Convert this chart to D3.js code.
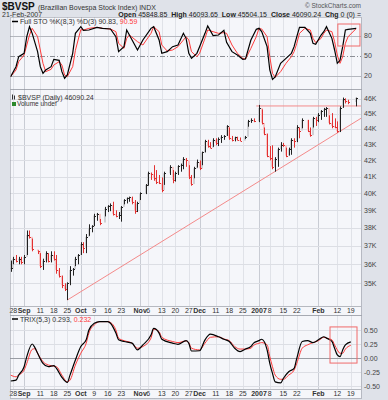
<!DOCTYPE html>
<html>
<head>
<meta charset="utf-8">
<script src="https://cdn.jsdelivr.net/npm/d3@7"></script>
<style>
body { margin: 0; background: #dfe2e9; }
svg text { font-family: "Liberation Sans", Arial, sans-serif; }
</style>
</head>
<body>
<svg width="388" height="400"></svg>
<script>
// ---- data (index points) ----
// one slot per weekday from 25-Aug-2006 to 21-Feb-2007, null = no trading
var highs = [36200,36400,36500,36400,36400,36500,37850,37850,37400,null,
  36750,36600,36300,36700,36600,36700,36700,36500,35800,35400,
  35000,35050,35900,35800,36400,36550,37200,37200,37650,38200,
  38150,38800,38850,38500,null,39200,39300,39400,39500,39000,
  38900,39250,39650,39750,39800,39800,39600,39500,40050,null,
  40550,41300,41250,41700,41400,41100,40950,41300,null,41700,
  41400,41300,41700,41800,42200,42150,41700,41100,41600,42050,
  42000,42550,43300,43300,43150,43400,43400,43450,43600,43600,
  44250,44100,43550,43500,43500,43450,null,43550,44600,44700,
  44700,null,45600,45300,44100,43700,42900,42950,42200,42800,
  43150,43100,42800,42800,43400,43400,44250,44100,44700,null,
  44600,44100,44800,44800,45050,45250,45400,45450,44900,45050,
  44700,44500,45500,46100,46050,45950,null,null,46093.65];
var lows = [35600,36000,36100,36000,36000,36000,36500,37400,36700,null,
  36550,35800,35700,36100,36100,36100,36200,35500,35300,34750,
  34600,34140,34900,35400,35900,36000,36500,36600,36600,37550,
  37750,38100,38400,38150,null,38650,38900,38950,38700,38600,
  38500,38350,39350,39400,39500,39350,38800,38900,39600,null,
  39950,40450,40800,40750,40550,40550,40060,40500,null,41100,
  40600,40700,41100,41300,41450,41600,40850,40450,40900,41550,
  41400,41700,42500,42800,42750,42850,42950,42900,43100,43300,
  43550,43300,43200,43200,43250,43200,null,43350,44150,44400,
  44450,null,44450,44300,43600,42200,42000,41450,41300,41600,
  42550,42850,42200,42300,42350,42800,43150,43400,44050,null,
  43800,43500,44100,44200,44450,44600,44800,44800,44300,44050,
  44050,43750,43800,45400,45700,45650,null,null,45504.15];
var closes = [35800,36300,36200,36300,36100,36400,37600,37500,36800,null,
  36700,35900,36200,36600,36200,36500,36300,35700,35400,34900,
  34700,35000,35700,35750,36300,36500,37100,36900,37500,38000,
  38100,38700,38800,38300,null,39100,39250,39300,38800,38700,
  38750,39200,39600,39700,39750,39500,38950,39400,40000,null,
  40500,41200,41150,40900,40700,40600,40200,41200,null,41600,
  40800,41200,41650,41700,42100,42000,41000,40550,41500,41900,
  41500,42500,43200,42900,42800,43300,43100,43350,43500,43550,
  44200,43400,43300,43450,43300,43250,null,43500,44500,44600,
  44500,null,45400,44400,43700,42300,42150,41600,42100,42700,
  43000,42950,42300,42700,43300,43200,44100,43900,44600,null,
  43900,43600,44700,44600,44950,45200,45300,45400,44400,44200,
  44100,43850,45400,46000,45850,45800,null,null,46090.24];

// Full STO %K(8,3) / %D(3), sampled by weekday slot
var stochDays = [0,2,3,5,6,7,8,10,11,12,13,15,16,18,19,20,21,23,24,26,27,29,32,34,37,39,40,42,43,44,
  47,49,52,53,55,56,58,60,62,64,65,66,67,69,70,72,73,75,77,79,80,82,84,86,87,89,91,92,93,95,
  96,97,98,100,102,104,105,106,107,109,111,112,113,115,116,117,119,120,121,122,123,124,125,128];
var stochK = [18.5,33.5,48.5,53.5,78.5,93.5,83.5,56,33.5,23.5,28.5,33.5,44.5,43,26,16,21,53.5,83.5,93.5,88,88.5,92.5,91,90,78.5,56,63.5,88.5,81,
  58.5,73.5,91,93.5,73.5,53.5,56,63.5,66,83.5,76,53.5,46,53.5,63.5,83.5,94.5,80,81,88,70,56,51,44.5,45,73.5,89.5,91,86,63.5,
  28.5,14.5,18,38.5,46,53.5,63.5,78.5,92.5,92.5,83.5,68.5,67,81,86,93.5,76,58.5,38.5,43,63.5,88.5,89.5,90.83];
var stochD = [18.5,28.5,41,51,66,81,91,78.5,58.5,38.5,26,29.5,36,41,36,21,18.5,33.5,58,89,88.5,91,92.5,91,90,86,68.5,61,76,81,
  71,66,83.5,93.5,86,66,57,58.5,63.5,73.5,78.5,73.5,56,48.5,53.5,76,88.5,86,83.5,84.5,83.5,66,53.5,46,45,61,78.5,91,90,78.5,
  48.5,23.5,17.5,26,38.5,48.5,56,68.5,83.5,91,88.5,76,69.5,76,83.5,88.5,86,71,51,38.5,48.5,68.5,78.5,90.59];

// TRIX(5,3) and its signal
var trixDays = [0,2,3,5,6,8,9,10,12,14,16,17,19,21,22,24,26,28,29,31,33,36,37,39,40,42,45,47,49,52,
  53,55,56,60,62,65,66,67,70,72,74,77,79,81,83,85,87,89,90,92,93,95,96,97,98,100,101,103,105,106,
  108,110,112,114,116,117,119,120,121,122,123,124,126];
var trixLine = [-0.405,-0.39,-0.30,-0.15,0.03,0.255,0.19,0.09,-0.09,-0.15,-0.13,-0.18,-0.34,-0.43,-0.30,-0.03,0.21,0.33,0.505,0.625,0.655,0.655,0.625,0.45,0.33,0.30,0.27,0.15,0.24,0.415,
  0.535,0.45,0.34,0.27,0.25,0.315,0.27,0.13,0.135,0.33,0.43,0.385,0.34,0.30,0.18,0.12,0.165,0.21,0.27,0.315,0.34,0.15,-0.09,-0.27,-0.42,-0.44,-0.36,-0.24,-0.18,0.0,
  0.30,0.315,0.28,0.33,0.385,0.36,0.30,0.18,0.06,0.03,0.15,0.24,0.293];
var trixSignal = [-0.30,-0.33,-0.30,-0.21,-0.09,0.16,0.17,0.09,-0.06,-0.12,-0.14,-0.15,-0.30,-0.42,-0.39,-0.12,0.09,0.27,0.45,0.595,0.655,0.655,0.64,0.505,0.36,0.315,0.27,0.18,0.21,0.36,
  0.52,0.475,0.375,0.30,0.28,0.31,0.28,0.18,0.15,0.27,0.375,0.385,0.345,0.315,0.21,0.165,0.165,0.18,0.23,0.27,0.28,0.24,0.03,-0.15,-0.30,-0.375,-0.375,-0.30,-0.21,-0.09,
  0.18,0.24,0.28,0.315,0.375,0.36,0.33,0.24,0.15,0.09,0.09,0.165,0.232];

// x axis labels
var tickDates = ['2006-08-28','2006-09-01','2006-09-11','2006-09-18','2006-09-25','2006-10-02','2006-10-09','2006-10-16','2006-10-23',
  '2006-11-01','2006-11-06','2006-11-13','2006-11-20','2006-11-27','2006-12-01','2006-12-11','2006-12-18','2006-12-25',
  '2007-01-02','2007-01-08','2007-01-15','2007-01-22','2007-02-01','2007-02-12','2007-02-19'];
var tickLabels = ['28','Sep','11','18','25','Oct','9','16','23','Nov','6','13','20','27','Dec','11','18','25','2007','8','15','22','Feb','12','19'];
var majorLabels = ['Sep','Oct','Nov','Dec','2007','Feb'];
var priceTicks = [35000,36000,37000,38000,39000,40000,41000,42000,43000,44000,45000,46000];
var stochTicks = [80,50,20];
var trixTicks = [0.5,0.25,0,-0.25,-0.5];
var trixTickLabels = ['0.50','0.25','0.00','-0.25','-0.50'];

// drawn annotations (day slot, value)
var supportLine = [[21, 34140], [130, 44730]];
var resistLine = [[91, 45530], [130, 45530]];
var stochBox = {from: 121.2, to: 129.4, top: 97.5, bottom: 64.5};
var trixBox = {from: 118.3, to: 128.3, top: 0.56, bottom: -0.085};

// ---- layout ----
var svg = d3.select('svg');
var L = 10, R = 361;
var fmt = d3.timeFormat('%Y-%m-%d');
var days = d3.timeDays(new Date(2006, 7, 25), new Date(2007, 1, 22))
  .filter(function(d){ return d.getDay() > 0 && d.getDay() < 6; }).map(fmt);

var x = d3.scaleLinear().domain([-0.22, 129.78]).range([L, R]);
var yPrice = d3.scaleLog().domain([33840, 46690]).range([306, 89]);
var yStoch = d3.scaleLinear().domain([0, 108]).range([89, 17]);
var yTrix = d3.scaleLinear().domain([-0.548, 0.773]).range([389, 315]);

var defs = svg.append('defs');
defs.append('clipPath').attr('id','clipMain').append('rect').attr('x',L).attr('y',89).attr('width',R-L).attr('height',217);
defs.append('clipPath').attr('id','clipStoch').append('rect').attr('x',L).attr('y',17).attr('width',R-L).attr('height',72);
defs.append('clipPath').attr('id','clipTrix').append('rect').attr('x',L).attr('y',315).attr('width',R-L).attr('height',74);

// panel backgrounds
[[17,89],[89,315],[315,398]].forEach(function(p){
  svg.append('rect').attr('x',L).attr('y',p[0]).attr('width',R-L).attr('height',p[1]-p[0]).attr('fill','#f5f6fa');
});

var tickX = tickDates.map(function(d){ return x(days.indexOf(d)); });

// vertical grid
[[17,89],[89,306],[315,389]].forEach(function(p){
  svg.append('g').selectAll('line').data(tickLabels).enter().append('line')
    .attr('x1', function(d,i){ return Math.round(tickX[i])+0.5; })
    .attr('x2', function(d,i){ return Math.round(tickX[i])+0.5; })
    .attr('y1', p[0]).attr('y2', p[1])
    .attr('stroke', function(d){ return majorLabels.indexOf(d) >= 0 ? '#c9ccd4' : '#e0e2e8'; });
});

// horizontal grid
svg.append('g').selectAll('line').data(priceTicks).enter().append('line')
  .attr('x1',L).attr('x2',R)
  .attr('y1', function(d){ return Math.round(yPrice(d))+0.5; })
  .attr('y2', function(d){ return Math.round(yPrice(d))+0.5; })
  .attr('stroke','#dcdee4');
svg.append('g').selectAll('line').data(stochTicks).enter().append('line')
  .attr('x1',L).attr('x2',R)
  .attr('y1', function(d){ return Math.round(yStoch(d))+0.5; })
  .attr('y2', function(d){ return Math.round(yStoch(d))+0.5; })
  .attr('stroke', function(d){ return d == 50 ? '#8c8f96' : '#b4b7be'; })
  .attr('stroke-dasharray', function(d){ return d == 50 ? '5,2,1,2' : null; });
svg.append('g').selectAll('line').data(trixTicks).enter().append('line')
  .attr('x1',L).attr('x2',R)
  .attr('y1', function(d){ return Math.round(yTrix(d))+0.5; })
  .attr('y2', function(d){ return Math.round(yTrix(d))+0.5; })
  .attr('stroke', function(d){ return d == 0 ? '#9a9da4' : '#dcdee4'; });

// x axis strips
[306, 389].forEach(function(yy){
  svg.append('line').attr('x1',L).attr('x2',R).attr('y1',yy+0.5).attr('y2',yy+0.5).attr('stroke','#b6b9c0');
});
[312.5, 396].forEach(function(yy){
  svg.append('g').selectAll('text').data(tickLabels).enter().append('text')
    .attr('x', function(d,i){ return tickX[i]; }).attr('y', yy)
    .attr('text-anchor','middle')
    .style('font-size','7px')
    .style('font-weight', function(d){ return majorLabels.indexOf(d) >= 0 ? 'bold' : 'normal'; })
    .attr('fill','#333')
    .text(function(d){ return d; });
});

// ---- stochastics ----
var gS = svg.append('g').attr('clip-path','url(#clipStoch)');
var lineS = function(vals){
  return d3.line().x(function(d,i){ return x(stochDays[i]); }).y(function(d){ return yStoch(d); })(vals);
};
gS.append('path').attr('d', lineS(stochD)).attr('fill','none').attr('stroke','#ff3b3b').attr('stroke-width',1);
gS.append('path').attr('d', lineS(stochK)).attr('fill','none').attr('stroke','#000').attr('stroke-width',1.2);
svg.append('rect').attr('x', x(stochBox.from)).attr('y', yStoch(stochBox.top))
  .attr('width', x(stochBox.to)-x(stochBox.from)).attr('height', yStoch(stochBox.bottom)-yStoch(stochBox.top))
  .attr('fill','none').attr('stroke','#f06a6a').attr('stroke-width',1);

// ---- price bars ----
var bars = [];
days.forEach(function(d,i){
  if (closes[i] != null) bars.push({i:i, h:highs[i], l:lows[i], c:closes[i]});
});
bars.forEach(function(b,k){ b.prev = k > 0 ? bars[k-1].c : b.c; b.up = b.c >= b.prev; });

var gM = svg.append('g').attr('clip-path','url(#clipMain)');
var lineP = d3.line().x(function(d){ return x(d[0]); }).y(function(d){ return yPrice(d[1]); });
gM.append('path').attr('d', lineP(supportLine)).attr('fill','none').attr('stroke','#f48a8a').attr('stroke-width',1);
gM.append('path').attr('d', lineP(resistLine)).attr('fill','none').attr('stroke','#f48a8a').attr('stroke-width',1);

gM.selectAll('.body').data(bars).enter().append('rect')
  .attr('x', function(b){ return Math.round(x(b.i))-1; }).attr('width', 2)
  .attr('y', function(b){ return yPrice(Math.max(b.c, b.prev)); })
  .attr('height', function(b){ return Math.max(1, Math.abs(yPrice(b.c)-yPrice(b.prev))); })
  .attr('fill', function(b){ return b.up ? '#d0d0d4' : '#f7c6c6'; });
gM.selectAll('.hl').data(bars).enter().append('line')
  .attr('x1', function(b){ return Math.round(x(b.i))+0.5; })
  .attr('x2', function(b){ return Math.round(x(b.i))+0.5; })
  .attr('y1', function(b){ return yPrice(b.h); })
  .attr('y2', function(b){ return yPrice(b.l); })
  .attr('stroke', function(b){ return b.up ? '#222' : '#e23232'; }).attr('stroke-width',1);
gM.selectAll('.cl').data(bars).enter().append('line')
  .attr('x1', function(b){ return Math.round(x(b.i))+1; })
  .attr('x2', function(b){ return Math.round(x(b.i))+2; })
  .attr('y1', function(b){ return Math.round(yPrice(b.c))+0.5; })
  .attr('y2', function(b){ return Math.round(yPrice(b.c))+0.5; })
  .attr('stroke', function(b){ return b.up ? '#222' : '#e23232'; }).attr('stroke-width',1);

// ---- TRIX ----
var gT = svg.append('g').attr('clip-path','url(#clipTrix)');
var lineT = function(vals){
  return d3.line().curve(d3.curveMonotoneX).x(function(d,i){ return x(trixDays[i]); }).y(function(d){ return yTrix(d); })(vals);
};
gT.append('path').attr('d', lineT(trixSignal)).attr('fill','none').attr('stroke','#ff3b3b').attr('stroke-width',1);
gT.append('path').attr('d', lineT(trixLine)).attr('fill','none').attr('stroke','#000').attr('stroke-width',1.2);
svg.append('rect').attr('x', x(trixBox.from)).attr('y', yTrix(trixBox.top))
  .attr('width', x(trixBox.to)-x(trixBox.from)).attr('height', yTrix(trixBox.bottom)-yTrix(trixBox.top))
  .attr('fill','none').attr('stroke','#f06a6a').attr('stroke-width',1);

// panel borders (dotted)
[[17,89],[89,315],[315,398]].forEach(function(p){
  svg.append('rect').attr('x',L+0.5).attr('y',p[0]+0.5).attr('width',R-L).attr('height',p[1]-p[0])
    .attr('fill','none').attr('stroke','#8d919b').attr('stroke-dasharray','1,1');
});

// right axis labels
function rightLabels(vals, labels, scale){
  svg.append('g').selectAll('text').data(vals).enter().append('text')
    .attr('x', 364).attr('y', function(d){ return scale(d); }).attr('dy','0.35em')
    .style('font-size','7px').attr('fill','#444')
    .text(function(d,i){ return labels[i]; });
}
rightLabels(stochTicks, stochTicks.map(String), yStoch);
rightLabels(priceTicks, priceTicks.map(function(d){ return (d/1000) + 'K'; }), yPrice);
rightLabels(trixTicks, trixTickLabels, yTrix);

// ---- header and legends ----
svg.append('text').attr('x',2).attr('y',10).style('font-size','10px').style('font-weight','bold').attr('fill','#111').text('$BVSP');
svg.append('text').attr('x',38).attr('y',10).style('font-size','7px').attr('fill','#333').text('(Brazilian Bovespa Stock Index) INDX');
svg.append('text').attr('x',R).attr('y',8).attr('text-anchor','end').style('font-size','6.5px').attr('fill','#555').text('\u00a9 StockCharts.com');
svg.append('text').attr('x',2).attr('y',16.5).style('font-size','7px').attr('fill','#333').text('21-Feb-2007');

var quote = [['Open ','45848.85'],['  High ','46093.65'],['  Low ','45504.15'],['  Close ','46090.24'],['  Chg ','0 (0) =']];
var qt = svg.append('text').attr('x',R).attr('y',16.5).attr('text-anchor','end').style('font-size','7px').attr('fill','#222')
  .attr('xml:space','preserve');
quote.forEach(function(q){
  qt.append('tspan').style('font-weight','bold').text(q[0]);
  qt.append('tspan').text(q[1]);
});

svg.append('line').attr('x1',12).attr('x2',18).attr('y1',21.5).attr('y2',21.5).attr('stroke','#000').attr('stroke-width',1.5);
var sl = svg.append('text').attr('x',20).attr('y',24).style('font-size','7px').attr('fill','#333');
sl.append('tspan').text('Full STO %K(8,3) %D(3) 90.83, ');
sl.append('tspan').attr('fill','#ff3b3b').text('90.59');

svg.append('rect').attr('x',12).attr('y',94.5).attr('width',1).attr('height',5).attr('fill','#333');
svg.append('rect').attr('x',14).attr('y',95.5).attr('width',1).attr('height',4).attr('fill','#333');
svg.append('text').attr('x',18).attr('y',99.5).style('font-size','7px').attr('fill','#333').text('$BVSP (Daily) 46090.24');
svg.append('rect').attr('x',12).attr('y',102).attr('width',4).attr('height',4).attr('fill','#2d8a2d');
svg.append('text').attr('x',17).attr('y',106).style('font-size','6.5px').attr('fill','#333').text('Volume undef');

svg.append('line').attr('x1',12).attr('x2',18).attr('y1',319).attr('y2',319).attr('stroke','#000').attr('stroke-width',1.5);
var tl = svg.append('text').attr('x',20).attr('y',321.5).style('font-size','7px').attr('fill','#333');
tl.append('tspan').text('TRIX(5,3) 0.293, ');
tl.append('tspan').attr('fill','#ff3b3b').text('0.232');
</script>
</body>
</html>
